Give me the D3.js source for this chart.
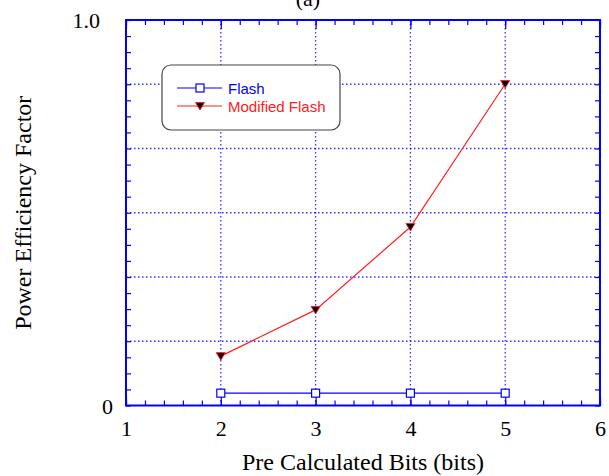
<!DOCTYPE html>
<html>
<head>
<meta charset="utf-8">
<script src="https://cdn.jsdelivr.net/npm/d3@7"></script>
<style>
  body { margin: 0; background: #fff; }
  svg { display: block; }
  .serif { font-family: "Liberation Serif", "Times New Roman", serif; }
</style>
</head>
<body>
<div id="chart"></div>
<script>
// data
const bits = [2, 3, 4, 5]
const flash = [0.032, 0.032, 0.032, 0.032]
const modifiedFlash = [0.128, 0.248, 0.463, 0.834]
const seriesNames = ['Flash', 'Modified Flash']
const xTicks = [1, 2, 3, 4, 5, 6]
const yLabels = [0, 1]

const W = 609, H = 476
const m = {left: 126, right: 9, top: 20, bottom: 70.5}
const w = W - m.left - m.right
const h = H - m.top - m.bottom

const blue = '#0000ff'
const red = '#ff2020'

const svg = d3.select('#chart')
    .append('svg')
    .attr('width', W)
    .attr('height', H)

const g = svg.append('g')
    .attr('transform', `translate(${m.left}, ${m.top})`)

// Scales
const x = d3.scaleLinear().domain([1, 6]).range([0, w])
const y = d3.scaleLinear().domain([0, 1]).range([h, 0])

const xMinor = d3.range(1, 6.001, 0.2)
const yMajor = d3.range(0, 6.5).map(i => i / 6)
const yMinor = d3.range(0, 24.5).map(i => i / 24)

// Grid
const grid = g.append('g')
grid.selectAll('.gx')
    .data([2, 3, 4, 5]).enter()
    .append('line')
    .attr('x1', d => x(d)).attr('x2', d => x(d))
    .attr('y1', 0).attr('y2', h)
grid.selectAll('.gy')
    .data(yMajor.slice(1, 6)).enter()
    .append('line')
    .attr('x1', 0).attr('x2', w)
    .attr('y1', d => y(d)).attr('y2', d => y(d))
grid.selectAll('line')
    .attr('stroke', blue)
    .attr('stroke-width', 1.3)
    .attr('stroke-dasharray', '1.5,2.5')
    .attr('opacity', 0.8)

// Axes (ticks pointing inside on all four sides)
function styleAxis(sel) {
    sel.select('.domain').remove()
    sel.selectAll('line').attr('stroke', blue).attr('stroke-width', 1.2)
    sel.selectAll('text')
        .attr('class', 'serif')
        .attr('fill', '#000')
        .attr('font-size', '22px')
}

g.append('g').attr('transform', `translate(0, ${h})`)
    .call(d3.axisBottom(x).tickValues(xMinor).tickSize(-5).tickFormat(''))
    .call(styleAxis)
g.append('g').attr('transform', `translate(0, ${h})`)
    .call(d3.axisBottom(x).tickValues(xTicks).tickSizeInner(-9).tickSizeOuter(0).tickPadding(15).tickFormat(d3.format('d')))
    .call(styleAxis)
g.append('g')
    .call(d3.axisTop(x).tickValues(xMinor).tickSize(-5).tickFormat(''))
    .call(styleAxis)
g.append('g')
    .call(d3.axisTop(x).tickValues(xTicks).tickSize(-9).tickFormat(''))
    .call(styleAxis)

g.append('g')
    .call(d3.axisLeft(y).tickValues(yMinor).tickSize(-5).tickFormat(''))
    .call(styleAxis)
const yAxisCall = g.append('g')
    .call(d3.axisLeft(y).tickValues(yLabels).tickSize(0).tickPadding(13).tickFormat(d => d ? d3.format('.1f')(d) : '0'))
    .call(styleAxis)
yAxisCall.selectAll('.tick text').attr('dx', d => d ? -13 : 0).attr('dy', '0.36em')
g.append('g').attr('transform', `translate(${w}, 0)`)
    .call(d3.axisRight(y).tickValues(yMinor).tickSize(-5).tickFormat(''))
    .call(styleAxis)

// Frame
g.append('rect')
    .attr('width', w).attr('height', h)
    .attr('fill', 'none')
    .attr('stroke', blue)
    .attr('stroke-width', 2)

// Axis titles
svg.append('text')
    .attr('class', 'serif')
    .attr('x', m.left + w / 2)
    .attr('y', 470)
    .attr('font-size', '24px')
    .attr('text-anchor', 'middle')
    .text('Pre Calculated Bits (bits)')

svg.append('text')
    .attr('class', 'serif')
    .attr('transform', `translate(31, ${m.top + h / 2}) rotate(-90)`)
    .attr('font-size', '24px')
    .attr('text-anchor', 'middle')
    .text('Power Efficiency Factor')

svg.append('text')
    .attr('class', 'serif')
    .attr('x', 308)
    .attr('y', 6)
    .attr('font-size', '22px')
    .attr('text-anchor', 'middle')
    .text('(a)')

// Lines
const line = d3.line().x(d => x(d[0])).y(d => y(d[1]))
const flashData = bits.map((b, i) => [b, flash[i]])
const modData = bits.map((b, i) => [b, modifiedFlash[i]])

g.append('path').datum(flashData)
    .attr('d', line).attr('fill', 'none')
    .attr('stroke', blue).attr('stroke-width', 1.2)
g.append('path').datum(modData)
    .attr('d', line).attr('fill', 'none')
    .attr('stroke', red).attr('stroke-width', 1.2)

const tri = 'M-4.5,-3.5L4.5,-3.5L0,4Z'

g.selectAll('.sq')
    .data(flashData).enter()
    .append('rect')
    .attr('x', d => x(d[0]) - 4).attr('y', d => y(d[1]) - 4)
    .attr('width', 8).attr('height', 8)
    .attr('fill', '#fff').attr('stroke', blue).attr('stroke-width', 1.2)

g.selectAll('.tri')
    .data(modData).enter()
    .append('path')
    .attr('transform', d => `translate(${x(d[0])}, ${y(d[1])})`)
    .attr('d', tri)
    .attr('fill', '#000').attr('stroke', red).attr('stroke-width', 1)

// Legend
const lg = svg.append('g').attr('transform', 'translate(162, 65)')
lg.append('rect')
    .attr('width', 178).attr('height', 65)
    .attr('rx', 9).attr('ry', 9)
    .attr('fill', '#fff')
    .attr('stroke', '#444').attr('stroke-width', 1.2)

const rows = lg.selectAll('.row')
    .data(seriesNames).enter()
    .append('g')
    .attr('transform', (d, i) => `translate(0, ${23 + i * 18})`)
rows.append('line')
    .attr('x1', 15).attr('x2', 60)
    .attr('stroke', (d, i) => i ? red : blue).attr('stroke-width', 1.2)
rows.filter((d, i) => i === 0).append('rect')
    .attr('x', 34).attr('y', -4).attr('width', 8).attr('height', 8)
    .attr('fill', '#fff').attr('stroke', blue).attr('stroke-width', 1.2)
rows.filter((d, i) => i === 1).append('path')
    .attr('transform', 'translate(38, 0)')
    .attr('d', tri)
    .attr('fill', '#000').attr('stroke', red)
rows.append('text')
    .attr('x', 66).attr('y', 5.5)
    .attr('font-family', '"Liberation Sans", Arial, sans-serif')
    .attr('font-size', '15px')
    .attr('fill', (d, i) => i ? red : blue)
    .text(d => d)
</script>
</body>
</html>
